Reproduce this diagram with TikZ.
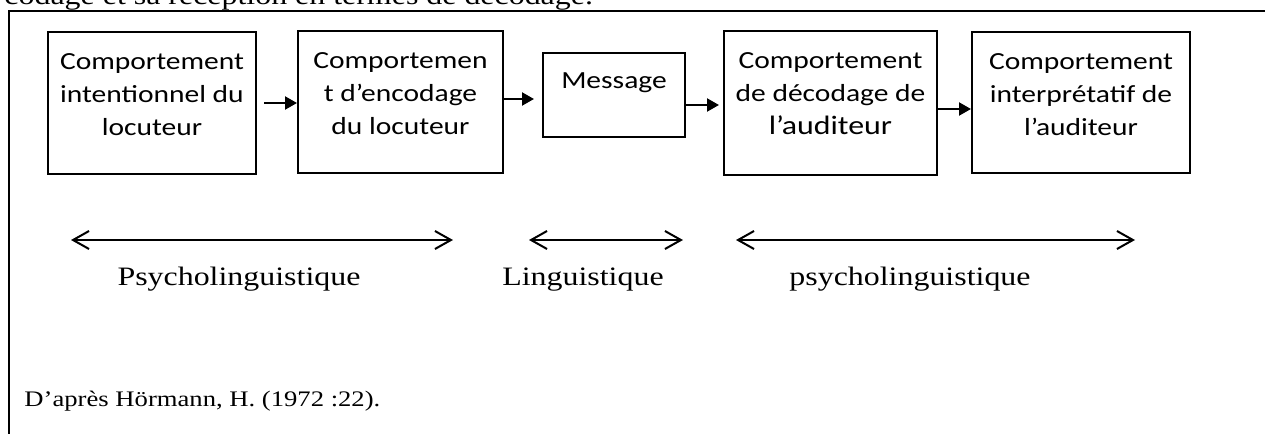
\documentclass[tikz,border=0pt]{standalone}
\usepackage{fontspec}
\setmainfont{Liberation Serif}
\newfontfamily\calibri{Carlito}
\usetikzlibrary{positioning,arrows.meta}

\begin{document}
\begin{tikzpicture}[x=0.5pt, y=-0.5pt,
        bloc/.style={draw, line width=1pt, inner sep=0pt},
        texte/.style={align=center, inner sep=0pt, xscale=1.2, font=\calibri\fontsize{12.3}{16.5}\selectfont},
        fleche/.style={-{Triangle[length=6pt,width=6.5pt]}, line width=1.1pt},
        portee/.style={{Straight Barb[length=8pt,width=9pt]}-{Straight Barb[length=8pt,width=9pt]}, line width=1pt},
        discipline/.style={anchor=base, inner sep=0pt, xscale=1.2, font=\fontsize{13.3}{16}\selectfont}]
        \useasboundingbox (0, 0) rectangle (1265, 434);

        \draw[line width=1.3pt] (9, 434) -- (9, 11) -- (1265, 11);
        \node (titre) at (4, 4)[anchor=base west, inner sep=0pt, xscale=1.2, font=\fontsize{13.3}{16}\selectfont]{codage et sa réception en termes de décodage.};

        \node (intention) at (152, 103)[bloc, minimum width=104pt, minimum height=71pt]{};
        \node (encodage) at (400.5, 102)[bloc, minimum width=102.5pt, minimum height=71pt]{};
        \node (message) at (614, 95)[bloc, minimum width=71pt, minimum height=42pt]{};
        \node (decodage) at (830.5, 103)[bloc, minimum width=106.5pt, minimum height=72pt]{};
        \node (interpretation) at (1081, 102.5)[bloc, minimum width=109pt, minimum height=70.5pt]{};

        \node (intentionTexte)[texte, below=11pt of intention.north]{Comportement\\intentionnel du\\locuteur};
        \node (encodageTexte)[texte, below=11pt of encodage.north]{Comportemen\\t d’encodage\\du locuteur};
        \node (messageTexte)[texte, below=10pt of message.north]{Message};
        \node (decodageTexte)[texte, below=11pt of decodage.north]{Comportement\\de décodage de\\{\fontsize{13.3}{16.5}\selectfont l’auditeur}};
        \node (interpretationTexte)[texte, below=11pt of interpretation.north]{Comportement\\interprétatif de\\l’auditeur};

        \draw[fleche] ([xshift=3.5pt]intention.east) -- (intention.east -| encodage.west);
        \coordinate (sortieEncodage) at ([yshift=1.5pt]encodage.east);
        \draw[fleche, shorten >=4pt] (sortieEncodage) -- (sortieEncodage -| message.west);
        \coordinate (sortieMessage) at ([yshift=-5pt]message.east);
        \draw[fleche, shorten >=2pt] (sortieMessage) -- (sortieMessage -| decodage.west);
        \coordinate (sortieDecodage) at ([yshift=-3pt]decodage.east);
        \draw[fleche] (sortieDecodage) -- (sortieDecodage -| interpretation.west);

        \coordinate (psyDebut) at (71, 240);
        \coordinate (psyFin) at (453, 240);
        \coordinate (lingDebut) at (529, 240);
        \coordinate (lingFin) at (683, 240);
        \coordinate (psyAuditeurDebut) at (736, 240);
        \coordinate (psyAuditeurFin) at (1135, 240);
        \draw[portee] (psyDebut) -- (psyFin);
        \draw[portee] (lingDebut) -- (lingFin);
        \draw[portee] (psyAuditeurDebut) -- (psyAuditeurFin);

        \node (psyLocuteur) at (239, 285)[discipline]{Psycholinguistique};
        \node (linguistique) at (583, 285)[discipline]{Linguistique};
        \node (psyAuditeur) at (910, 285)[discipline]{psycholinguistique};

        \node (source) at (24, 406)[anchor=base west, inner sep=0pt, xscale=1.2, font=\fontsize{11.1}{13}\selectfont]{D’après Hörmann, H. (1972 :22).};
    \end{tikzpicture}
\end{document}
